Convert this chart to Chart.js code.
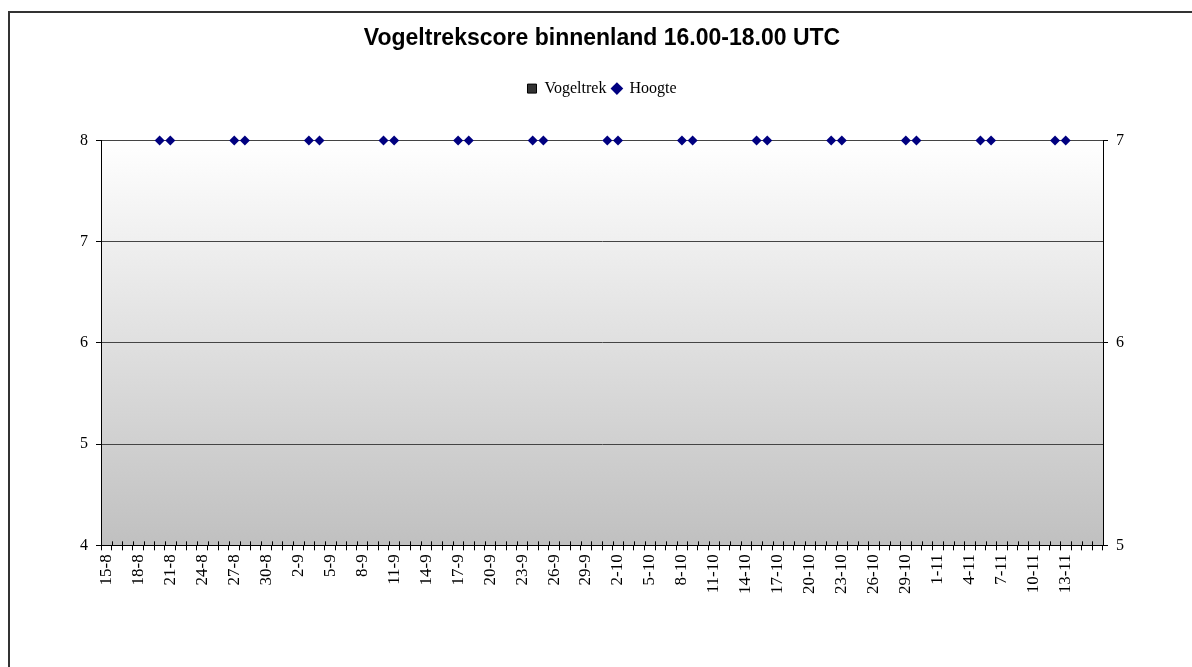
<!DOCTYPE html>
<html>
<head>
<meta charset="utf-8">
<script src="https://cdn.jsdelivr.net/npm/chart.js@4"></script>
<style>
  body { margin: 0; background: #fff; overflow: hidden; }
  #frame { position: absolute; left: 8px; top: 11px; width: 1200px; height: 720px; border: 2px solid #333; }
  #wrap { position: absolute; left: 0; top: 0; width: 1184px; height: 700px; }
</style>
</head>
<body>
<div id="frame"><div id="wrap"><canvas id="myChart"></canvas></div></div>
<script>
// dates on the x axis (day-month)
const days = [
  "15-8","16-8","17-8","18-8","19-8","20-8","21-8","22-8","23-8","24-8","25-8","26-8","27-8","28-8","29-8","30-8","31-8",
  "1-9","2-9","3-9","4-9","5-9","6-9","7-9","8-9","9-9","10-9","11-9","12-9","13-9","14-9","15-9","16-9","17-9","18-9","19-9","20-9",
  "21-9","22-9","23-9","24-9","25-9","26-9","27-9","28-9","29-9","30-9",
  "1-10","2-10","3-10","4-10","5-10","6-10","7-10","8-10","9-10","10-10","11-10","12-10","13-10","14-10","15-10","16-10","17-10","18-10",
  "19-10","20-10","21-10","22-10","23-10","24-10","25-10","26-10","27-10","28-10","29-10","30-10","31-10",
  "1-11","2-11","3-11","4-11","5-11","6-11","7-11","8-11","9-11","10-11","11-11","12-11","13-11","14-11","15-11","16-11"
];

// Vogeltrek: no scores in this period
const vogeltrek = [];

// Hoogte: dates with a value, and the values
const hoogteDays = ["20-8","21-8","27-8","28-8","3-9","4-9","10-9","11-9","17-9","18-9","24-9","25-9","1-10","2-10",
  "8-10","9-10","15-10","16-10","22-10","23-10","29-10","30-10","5-11","6-11","12-11","13-11"];
const hoogteValues = [7,7,7,7,7,7,7,7,7,7,7,7,7,7,7,7,7,7,7,7,7,7,7,7,7,7];

const leftTicks = [4, 5, 6, 7, 8];
const rightTicks = [5, 6, 7];

const hoogteData = days.map((d) => {
  const i = hoogteDays.indexOf(d);
  return i >= 0 ? hoogteValues[i] : null;
});

const serif = "'Liberation Serif', 'Times New Roman', serif";

const plotBackground = {
  id: 'plotBackground',
  beforeDraw(chart) {
    const { ctx, chartArea } = chart;
    const g = ctx.createLinearGradient(0, chartArea.top, 0, chartArea.bottom);
    g.addColorStop(0, '#ffffff');
    g.addColorStop(1, '#c0c0c0');
    ctx.save();
    ctx.fillStyle = g;
    ctx.fillRect(chartArea.left, chartArea.top, chartArea.right - chartArea.left, chartArea.bottom - chartArea.top);
    ctx.restore();
  }
};

// extra room between the legend and the plot
const legendGap = {
  id: 'legendGap',
  beforeLayout(chart) {
    const legend = chart.legend;
    if (legend && !legend._gapPatched) {
      const fit = legend.fit;
      legend.fit = function () {
        fit.call(this);
        this.height += 34;
      };
      legend._gapPatched = true;
    }
  }
};

// small inward half of the x axis tick marks (Excel style cross ticks)
const crossTicks = {
  id: 'crossTicks',
  afterDraw(chart) {
    const { ctx } = chart;
    const x = chart.scales.x;
    const n = days.length;
    ctx.save();
    ctx.strokeStyle = '#000';
    ctx.lineWidth = 1;
    ctx.beginPath();
    for (let i = 0; i <= n; i++) {
      const px = Math.round(x.left + i * (x.width / n)) + 0.5;
      ctx.moveTo(px, x.top - 4);
      ctx.lineTo(px, x.top);
    }
    ctx.stroke();
    ctx.restore();
  }
};

const generateChart = () => {
  var ctx = document.getElementById('myChart').getContext('2d');
  var myChart = new Chart(ctx, {
    type: 'bar',
    data: {
      labels: days,
      datasets: [
        {
          type: 'bar',
          label: 'Vogeltrek',
          data: vogeltrek,
          backgroundColor: '#333333',
          borderColor: '#000000',
          borderWidth: 1,
          pointStyle: 'rect',
          yAxisID: 'y'
        },
        {
          type: 'line',
          label: 'Hoogte',
          data: hoogteData,
          showLine: false,
          pointStyle: 'rectRot',
          pointRadius: 5,
          pointHoverRadius: 5,
          backgroundColor: '#000080',
          borderColor: '#000080',
          borderWidth: 0,
          clip: false,
          yAxisID: 'y1'
        }
      ]
    },
    options: {
      responsive: true,
      maintainAspectRatio: false,
      animation: false,
      layout: { padding: { left: 62, right: 62, top: 0, bottom: 115 } },
      plugins: {
        tooltip: { enabled: false },
        title: {
          display: true,
          text: 'Vogeltrekscore binnenland 16.00-18.00 UTC',
          color: '#000',
          font: { family: "'Liberation Sans', Arial, sans-serif", size: 23, weight: 'bold' },
          padding: { top: 12, bottom: 22 }
        },
        legend: {
          position: 'top',
          labels: {
            usePointStyle: true,
            boxWidth: 9,
            boxHeight: 9,
            padding: 6,
            color: '#000',
            font: { family: serif, size: 16 }
          }
        }
      },
      scales: {
        x: {
          offset: true,
          grid: { offset: true, drawOnChartArea: false, tickLength: 5, color: '#000', tickColor: '#000' },
          border: { color: '#000', width: 1 },
          ticks: {
            autoSkip: false,
            minRotation: 90,
            maxRotation: 90,
            padding: 4,
            color: '#000',
            font: { family: serif, size: 17 },
            callback: (value, index) => (index % 3 === 0 && index <= 90 ? days[index] : '')
          }
        },
        y: {
          position: 'left',
          min: leftTicks[0],
          max: leftTicks[leftTicks.length - 1],
          afterBuildTicks: (axis) => { axis.ticks = leftTicks.map((v) => ({ value: v })); },
          grid: { color: '#444', tickColor: '#000', tickLength: 5 },
          border: { color: '#000', width: 1 },
          ticks: { padding: 8, color: '#000', font: { family: serif, size: 16 } }
        },
        y1: {
          position: 'right',
          min: rightTicks[0],
          max: rightTicks[rightTicks.length - 1],
          afterBuildTicks: (axis) => { axis.ticks = rightTicks.map((v) => ({ value: v })); },
          grid: { drawOnChartArea: false, tickColor: '#000', tickLength: 5 },
          border: { color: '#000', width: 1 },
          ticks: { padding: 8, color: '#000', font: { family: serif, size: 16 } }
        }
      }
    },
    plugins: [plotBackground, legendGap, crossTicks]
  });
  return myChart;
};

generateChart();
</script>
</body>
</html>
